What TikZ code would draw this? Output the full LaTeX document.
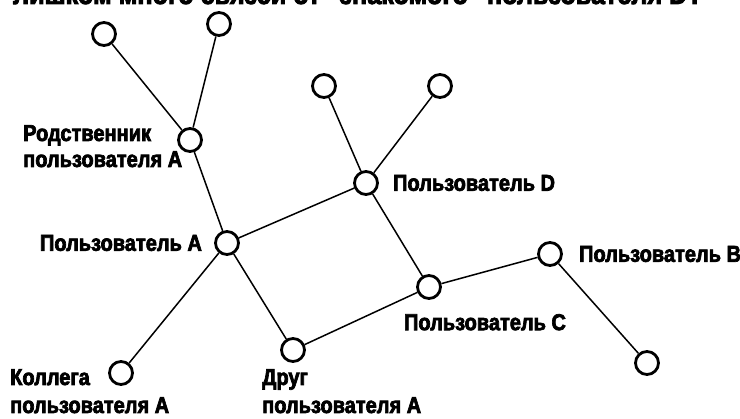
\documentclass[tikz,border=0pt]{standalone}
\usepackage{fontspec}
\setmainfont{Liberation Sans}
\newfontfamily\lblfont[FakeStretch=0.87,FakeBold=3]{Liberation Sans}
\usetikzlibrary{positioning}

\begin{document}
\begin{tikzpicture}[x=1pt, y=-1pt, user/.style={circle, draw=black, line width=2.8pt, fill=white, minimum size=23pt, inner sep=0pt}, lbl/.style={inner sep=0pt, font=\lblfont\bfseries\fontsize{23}{26}\selectfont, align=left}, link/.style={line width=1.5pt}]

    \useasboundingbox (0,0) rectangle (740,419);

    %Question (cut off at the top)
    \begin{scope}
    \clip (0,0) rectangle (740,419);
    \node[anchor=base east, inner sep=0pt, font=\lblfont\bfseries\fontsize{29}{32}\selectfont](question) at (703,4) {лишком много связей от "знакомого" пользователя D?};
    \end{scope}

    %Nodes
    \node[user](userA) at (227,243) {};
    \node[user](relA) at (190,140) {};
    \node[user](top1) at (104,34) {};
    \node[user](top2) at (219,24) {};
    \node[user](userD) at (366,183) {};
    \node[user](leafD1) at (324,86) {};
    \node[user](leafD2) at (440,86) {};
    \node[user](userC) at (429,287) {};
    \node[user](userB) at (550,254) {};
    \node[user](leafB) at (647,363) {};
    \node[user](friendA) at (293,350) {};
    \node[user](colleagueA) at (121,373) {};

    %Labels
    \node[lbl, left=12pt of userA](nameA){Пользователь A};
    \node[lbl, right=14pt of userD](nameD){Пользователь D};
    \node[lbl, right=16pt of userB](nameB){Пользователь B};
    \node[lbl, below=14pt of userC, xshift=56pt](nameC){Пользователь C};
    \node[lbl, anchor=base west](nameRel) at (23,167) {Родственник\\пользователя A};
    \node[lbl, anchor=base west](nameCol) at (10,413) {Коллега\\[2pt]пользователя A};
    \node[lbl, anchor=base west](nameFr) at (262,413) {Друг\\[2pt]пользователя A};

    %Lines
    \draw[link] (top1) -- (relA);
    \draw[link] (top2) -- (relA);
    \draw[link] (relA) -- (userA);
    \draw[link] (userA) -- (userD);
    \draw[link] (userA) -- (colleagueA);
    \draw[link] (userA) -- (friendA);
    \draw[link] (friendA) -- (userC);
    \draw[link] (userD) -- (userC);
    \draw[link] (leafD1) -- (userD);
    \draw[link] (leafD2) -- (userD);
    \draw[link] (userC) -- (userB);
    \draw[link] (userB) -- (leafB);

\end{tikzpicture}
\end{document}
